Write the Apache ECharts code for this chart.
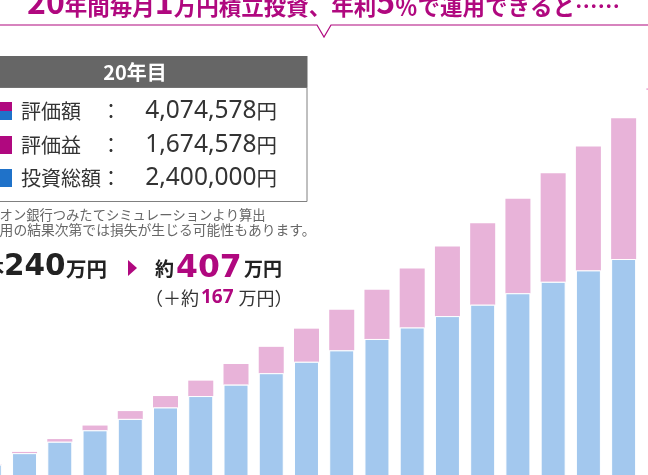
<!DOCTYPE html>
<html lang="ja">
<head>
    <meta charset="UTF-8">
    <title>20年間 毎月1万円積立投資シミュレーション</title>
    <script src="https://cdn.jsdelivr.net/npm/echarts@6/dist/echarts.min.js"></script>
    <style>
        * { margin: 0; padding: 0; box-sizing: border-box; }
        html, body { width: 648px; height: 475px; overflow: hidden; background: #fff; }
        /* 元画像は切り抜きなので、グラフ領域を左右にはみ出させ、右端の20年目の棒は切り落とす */
        #main {
            position: absolute; left: -29px; top: 0; width: 707px; height: 476px;
            clip-path: polygon(0 0, 707px 0, 707px 90px, 675px 90px, 675px 476px, 0 476px);
        }
    </style>
</head>
<body>
    <div id="main"></div>

    <script>
        // 年（カテゴリ）
        const years = ['1年目', '2年目', '3年目', '4年目', '5年目', '6年目', '7年目', '8年目', '9年目', '10年目',
                       '11年目', '12年目', '13年目', '14年目', '15年目', '16年目', '17年目', '18年目', '19年目', '20年目'];
        // 投資総額（万円）
        const invested = [12, 24, 36, 48, 60, 72, 84, 96, 108, 120, 132, 144, 156, 168, 180, 192, 204, 216, 228, 240];
        // 評価額（万円）グラフから読み取り
        const valuation = [12.3, 25.3, 38.8, 53.0, 68.2, 84.0, 100.2, 117.7, 135.7, 154.8,
                           174.8, 195.8, 218.0, 241.2, 265.5, 291.3, 318.0, 346.3, 375.8, 407.5];

        // 20年目の内訳（円）
        const boxNames = ['評価額', '評価益', '投資総額'];
        const boxValues = [4074578, 1674578, 2400000];

        const MAGENTA = '#b0087f';
        const BLUE = '#1f72c9';
        const FONT = '"Noto Sans CJK JP", "Noto Sans", sans-serif';
        const NUM_FONT = '"DejaVu Sans", "Noto Sans", sans-serif';
        const OX = 29; // #main のずらし量

        const gain = valuation.map((v, i) => Math.round((v - invested[i]) * 10) / 10);
        const man = v => Math.floor(v / 10000);

        var myChart = echarts.init(document.getElementById('main'));

        function txt(x, y, text, font, fill, align) {
            return {
                type: 'text', x: x, y: y,
                style: { text: text, font: font, fill: fill,
                         align: align || 'left', verticalAlign: 'middle',
                         textAlign: align || 'left', textVerticalAlign: 'middle' }
            };
        }

        const graphics = [];

        // タイトル（上部が切れている）
        graphics.push({
            type: 'text', x: 27, y: -14.5,
            style: {
                text: '{d|20}{c|年間毎月}{d|1}{c|万円積立投資、年利}{d|5}{c|％で運用できると……}',
                align: 'left', verticalAlign: 'top', textAlign: 'left', textVerticalAlign: 'top',
                rich: {
                    d: { font: 'bold 32px ' + FONT, fill: MAGENTA, verticalAlign: 'bottom' },
                    c: { font: 'bold 22.5px ' + FONT, fill: MAGENTA, verticalAlign: 'bottom' }
                }
            }
        });

        // 吹き出し線
        graphics.push({
            type: 'polyline',
            shape: { points: [[-10, 25], [317, 25], [324, 37], [331, 25], [660, 25]] },
            style: { stroke: MAGENTA, lineWidth: 1.2, fill: null }
        });

        // 20年目ボックス
        graphics.push({
            type: 'rect',
            shape: { x: -40, y: 87.5, width: 347, height: 114 },
            style: { fill: '#fff', stroke: '#808080', lineWidth: 1 }
        });
        graphics.push({
            type: 'rect',
            shape: { x: -40, y: 56, width: 347.5, height: 31.5 },
            style: { fill: '#666666' }
        });
        graphics.push(txt(135, 72, years[19], 'bold 20px ' + FONT, '#fff', 'center'));

        const rowY = [111, 145, 178];
        boxNames.forEach((name, i) => {
            const y = rowY[i];
            if (i === 0) {
                graphics.push({ type: 'rect', shape: { x: -5, y: y - 9, width: 17, height: 9 }, style: { fill: MAGENTA } });
                graphics.push({ type: 'rect', shape: { x: -5, y: y, width: 17, height: 9 }, style: { fill: BLUE } });
            } else {
                graphics.push({ type: 'rect', shape: { x: -5, y: y - 9, width: 17, height: 18 }, style: { fill: i === 1 ? MAGENTA : BLUE } });
            }
            graphics.push(txt(21, y, name, '20px ' + FONT, '#333'));
            graphics.push(txt(111, y, '：', '20px ' + FONT, '#333', 'center'));
            graphics.push({
                type: 'text', x: 277, y: y,
                style: {
                    text: '{n|' + boxValues[i].toLocaleString('en-US') + '}{y|円}',
                    align: 'right', verticalAlign: 'middle', textAlign: 'right', textVerticalAlign: 'middle',
                    rich: {
                        n: { font: '24.5px "Noto Sans", sans-serif', fill: '#333' },
                        y: { font: '20.5px ' + FONT, fill: '#333' }
                    }
                }
            });
        });

        // 注記
        const notes = ['※イオン銀行つみたてシミュレーションより算出', '※運用の結果次第では損失が生じる可能性もあります。'];
        notes.forEach((t, i) => {
            graphics.push(txt(i === 0 ? -27 : -28, 215 + i * 14.5, t, (i === 0 ? '13.3px ' : '13.8px ') + FONT, '#666'));
        });

        // 元本 → 評価額
        const mid = 268;
        graphics.push(txt(4, mid, '元本', 'bold 19px ' + FONT, '#222', 'right'));
        graphics.push(txt(4, mid - 1, String(man(boxValues[2])), 'bold 29.5px ' + NUM_FONT, '#222'));
        graphics.push(txt(66, mid + 1, '万円', 'bold 20.5px ' + FONT, '#222'));
        graphics.push({
            type: 'polygon',
            shape: { points: [[128, 260], [137, 268], [128, 276]] },
            style: { fill: MAGENTA }
        });
        graphics.push(txt(155, mid + 1, '約', 'bold 19px ' + FONT, '#222'));
        graphics.push(txt(176, mid + 1, String(man(boxValues[0])), 'bold 31.5px ' + NUM_FONT, MAGENTA));
        graphics.push(txt(244, mid + 1, '万円', 'bold 19px ' + FONT, '#222'));
        graphics.push({
            type: 'text', x: 145, y: 298,
            style: {
                text: '{a|（＋約}{b|' + man(boxValues[1]) + '}{a|万円）}',
                align: 'left', verticalAlign: 'middle', textAlign: 'left', textVerticalAlign: 'middle',
                rich: {
                    a: { font: '18px ' + FONT, fill: '#333' },
                    b: { font: 'bold 19px "Noto Sans", sans-serif', fill: MAGENTA, padding: [0, 5, 0, 2] }
                }
            }
        });

        var option = {
            backgroundColor: '#fff',
            animation: false,
            grid: {
                left: 0.7,
                right: 1.5,
                top: 47.7,
                bottom: 0
            },
            xAxis: {
                type: 'category',
                data: years,
                boundaryGap: true,
                axisLine: { show: false },
                axisTick: { show: false },
                axisLabel: { show: false }
            },
            yAxis: {
                type: 'value',
                min: 0,
                max: 450,
                show: false,
                splitLine: { show: false }
            },
            series: [
                {
                    name: '投資総額',
                    type: 'bar',
                    stack: 'total',
                    barWidth: 25,
                    data: invested,
                    z: 3,
                    itemStyle: { color: '#a3c8ee', borderColor: '#fff', borderWidth: 1 }
                },
                {
                    name: '評価益',
                    type: 'bar',
                    stack: 'total',
                    barWidth: 25,
                    data: gain,
                    z: 2,
                    itemStyle: { color: '#e8b3d9' }
                }
            ],
            graphic: { elements: [{ type: 'group', x: OX, y: 0, children: graphics }] }
        };

        myChart.setOption(option);
    </script>
</body>
</html>
